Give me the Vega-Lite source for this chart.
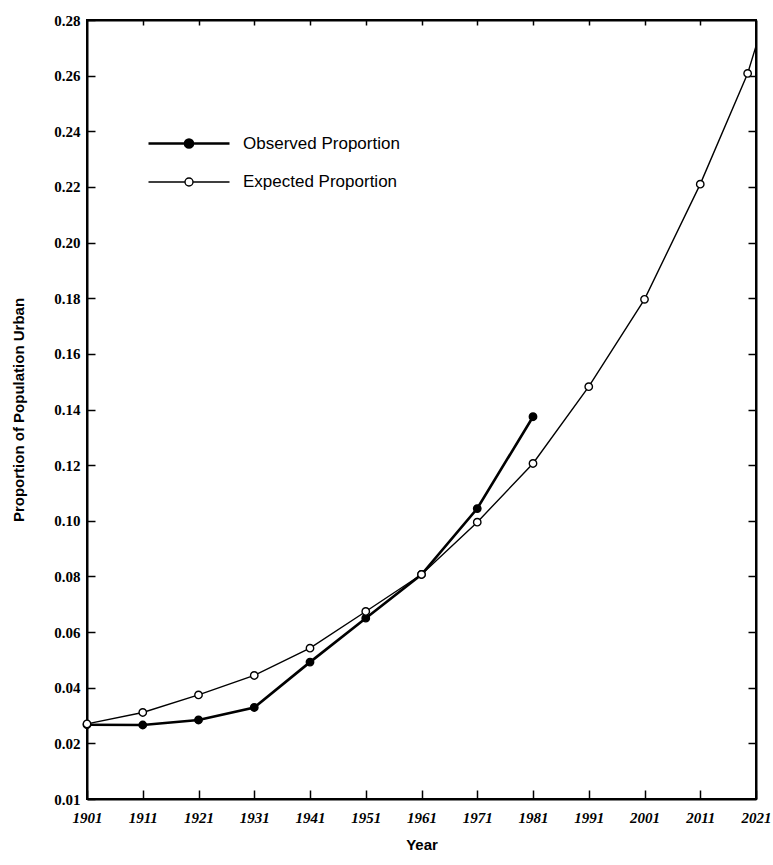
{
  "$schema": "https://vega.github.io/schema/vega-lite/v6.json",
  "width": 669,
  "height": 779,
  "autosize": {"type": "none"},
  "padding": {"left": 87, "top": 20, "right": 17, "bottom": 66},
  "background": "white",
  "config": {
    "view": {"stroke": "black", "strokeWidth": 2},
    "axis": {"domainColor": "black", "domainWidth": 2, "tickColor": "black", "tickWidth": 1.5, "grid": false, "labelColor": "black", "titleColor": "black"}
  },
  "data": {
    "values": [
      {"year": 1901, "value": 0.0267, "series": "Observed Proportion", "marker": true},
      {"year": 1911, "value": 0.0266, "series": "Observed Proportion", "marker": true},
      {"year": 1921, "value": 0.0284, "series": "Observed Proportion", "marker": true},
      {"year": 1931, "value": 0.0329, "series": "Observed Proportion", "marker": true},
      {"year": 1941, "value": 0.0492, "series": "Observed Proportion", "marker": true},
      {"year": 1951, "value": 0.0650, "series": "Observed Proportion", "marker": true},
      {"year": 1961, "value": 0.0807, "series": "Observed Proportion", "marker": true},
      {"year": 1971, "value": 0.1044, "series": "Observed Proportion", "marker": true},
      {"year": 1981, "value": 0.1374, "series": "Observed Proportion", "marker": true},
      {"year": 1901, "value": 0.0270, "series": "Expected Proportion", "marker": true},
      {"year": 1911, "value": 0.0311, "series": "Expected Proportion", "marker": true},
      {"year": 1921, "value": 0.0374, "series": "Expected Proportion", "marker": true},
      {"year": 1931, "value": 0.0444, "series": "Expected Proportion", "marker": true},
      {"year": 1941, "value": 0.0542, "series": "Expected Proportion", "marker": true},
      {"year": 1951, "value": 0.0674, "series": "Expected Proportion", "marker": true},
      {"year": 1961, "value": 0.0807, "series": "Expected Proportion", "marker": true},
      {"year": 1971, "value": 0.0995, "series": "Expected Proportion", "marker": true},
      {"year": 1981, "value": 0.1206, "series": "Expected Proportion", "marker": true},
      {"year": 1991, "value": 0.1482, "series": "Expected Proportion", "marker": true},
      {"year": 2001, "value": 0.1796, "series": "Expected Proportion", "marker": true},
      {"year": 2011, "value": 0.2210, "series": "Expected Proportion", "marker": true},
      {"year": 2019.5, "value": 0.2608, "series": "Expected Proportion", "marker": true},
      {"year": 2021, "value": 0.2706, "series": "Expected Proportion", "marker": false}
    ]
  },
  "layer": [
    {
      "mark": {"type": "line", "color": "black"},
      "encoding": {
        "x": {
          "field": "year", "type": "quantitative",
          "scale": {"domain": [1901, 2021], "nice": false, "zero": false},
          "axis": {
            "orient": "bottom",
            "values": [1901, 1911, 1921, 1931, 1941, 1951, 1961, 1971, 1981, 1991, 2001, 2011, 2021],
            "format": "d",
            "tickSize": -9,
            "labelPadding": 20,
            "labelFont": "Liberation Serif", "labelFontSize": 15, "labelFontWeight": "bold", "labelFontStyle": "italic",
            "labelFlush": false,
            "title": "Year",
            "titleFont": "Liberation Sans", "titleFontSize": 15, "titleFontWeight": "bold",
            "titleX": 334.5, "titleY": 45, "titleBaseline": "middle", "titleAlign": "center"
          }
        },
        "y": {
          "field": "value", "type": "quantitative",
          "scale": {"domain": [0, 0.28], "nice": false, "zero": false},
          "axis": {
            "orient": "left",
            "values": [0, 0.02, 0.04, 0.06, 0.08, 0.1, 0.12, 0.14, 0.16, 0.18, 0.2, 0.22, 0.24, 0.26, 0.28],
            "labelExpr": "datum.value < 0.001 ? '0.01' : format(datum.value, '.2f')",
            "tickSize": -8,
            "labelPadding": 15,
            "labelFont": "Liberation Serif", "labelFontSize": 15, "labelFontWeight": "bold",
            "labelFlush": false,
            "title": "Proportion of Population Urban",
            "titleFont": "Liberation Sans", "titleFontSize": 15, "titleFontWeight": "bold",
            "titleX": -69, "titleY": 389.5, "titleBaseline": "middle", "titleAlign": "center", "titleAngle": -90
          }
        },
        "detail": {"field": "series", "type": "nominal"},
        "strokeWidth": {
          "field": "series", "type": "nominal",
          "scale": {"domain": ["Observed Proportion", "Expected Proportion"], "range": [2.6, 1.4]},
          "legend": {
            "title": null,
            "orient": "none", "legendX": 121, "legendY": 112,
            "symbolType": "M-7.1,0H-3.45M-2.65,0H1M-2.65,0A0.4,0.4 0 1,1 -3.45,0A0.4,0.4 0 1,1 -2.65,0Z",
            "symbolSize": 400,
            "symbolStrokeColor": "black",
            "labelFont": "Liberation Sans", "labelFontSize": 17, "labelColor": "black",
            "labelOffset": 12, "rowPadding": 18, "padding": 0
          }
        }
      }
    },
    {
      "transform": [{"filter": "datum.marker"}],
      "mark": {"type": "point", "filled": true, "stroke": "black", "strokeWidth": 1.4, "size": 55, "opacity": 1},
      "encoding": {
        "x": {"field": "year", "type": "quantitative",
          "axis": {"orient": "top", "values": [1911, 1921, 1931, 1941, 1951, 1961, 1971, 1981, 1991, 2001, 2011], "labels": false, "tickSize": -5, "title": null}},
        "y": {"field": "value", "type": "quantitative",
          "axis": {"orient": "right", "values": [0.02, 0.04, 0.06, 0.08, 0.1, 0.12, 0.14, 0.16, 0.18, 0.2, 0.22, 0.24, 0.26], "labels": false, "tickSize": -8, "title": null}},
        "fill": {
          "field": "series", "type": "nominal",
          "scale": {"domain": ["Observed Proportion", "Expected Proportion"], "range": ["black", "white"]},
          "legend": {
            "title": null,
            "orient": "none", "legendX": 121, "legendY": 112,
            "symbolType": "M-7.1,0H-3.45M-2.65,0H1M-2.65,0A0.4,0.4 0 1,1 -3.45,0A0.4,0.4 0 1,1 -2.65,0Z",
            "symbolSize": 400,
            "symbolStrokeColor": "black",
            "labelFont": "Liberation Sans", "labelFontSize": 17, "labelColor": "black",
            "labelOffset": 12, "rowPadding": 18, "padding": 0
          }
        }
      }
    }
  ],
  "resolve": {"axis": {"x": "independent", "y": "independent"}}
}
